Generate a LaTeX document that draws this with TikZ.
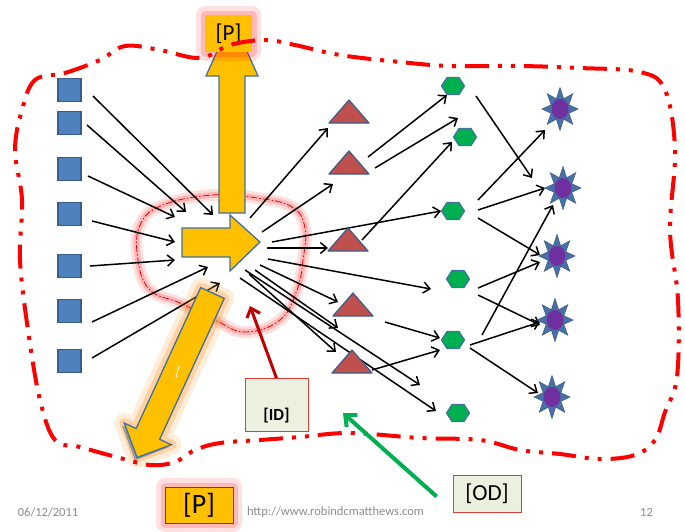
\documentclass[tikz,border=0pt]{standalone}
\usepackage{fontspec}
\setmainfont{Carlito}
\usetikzlibrary{arrows.meta,calc}
\definecolor{orng}{HTML}{FFC000}
\definecolor{arrbd}{HTML}{41719C}
\definecolor{sqfill}{HTML}{4F81BD}
\definecolor{sqbd}{HTML}{385D8A}
\definecolor{trifill}{HTML}{C0504D}
\definecolor{hexfill}{HTML}{00B050}
\definecolor{starfill}{HTML}{4A70A8}
\definecolor{purp}{HTML}{7030A0}
\definecolor{idfill}{HTML}{EBF1DE}
\definecolor{boxred}{HTML}{E03C3C}
\definecolor{darkred}{HTML}{C00000}
\definecolor{grn}{HTML}{00B050}
\definecolor{footgray}{HTML}{8C8C8C}
\definecolor{bred}{HTML}{FF0000}
\newcommand\hexat[3]{\coordinate (#1) at (#2,#3);
  \draw[hexst] ($(#1)+(-11.5,0)$) -- ++(5.5,-8.5) -- ++(12,0) -- ++(5.5,8.5) -- ++(-5.5,8.5) -- ++(-12,0) -- cycle;}
\newcommand\triat[3]{\coordinate (#1) at (#2,#3);
  \draw[trist] ($(#1)+(0,-12)$) -- ++(20,23) -- ++(-40,0) -- cycle;}
\newcommand\starat[3]{\coordinate (#1) at (#2,#3);
  \begin{scope}[shift={(#2,#3)}]
  \draw[starst] plot[samples at={0,...,15},variable=\k] ({(13.75+4.25*cos(180*\k))*cos(90+22.5*\k)},{(16.25+5.25*cos(180*\k))*sin(90+22.5*\k)}) -- cycle;
  \fill[purp] (0,0) ellipse (8.5 and 10);
  \end{scope}}
\begin{document}
\begin{tikzpicture}[x=1pt,y=-1pt,
 sqbox/.style={draw=sqbd,fill=sqfill,line width=1.5pt,minimum size=23pt,inner sep=0pt},
 trist/.style={draw=sqbd,fill=trifill,line width=1.2pt,line join=round},
 hexst/.style={draw=arrbd,fill=hexfill,line width=1.2pt},
 starst/.style={draw=sqbd,fill=starfill,line width=0.6pt},
 arr/.style={-{Straight Barb[length=6.5pt,width=11pt,line width=1.5pt]},line width=1.5pt},
 bigarr/.style={draw=arrbd,fill=orng,line width=1.3pt,line join=miter},
 boundary/.style={bred,line width=4pt,dash pattern=on 24pt off 9pt on 4pt off 9pt on 4pt off 9pt},
 foot/.style={text=footgray,font=\fontsize{12.5}{14}\selectfont},
 pbox/.style={fill=orng,inner sep=0pt}]
\useasboundingbox (0,0) rectangle (685,531);

% hub loop glow
\draw[red,opacity=0.12,line width=12pt,line join=round] plot[smooth cycle,tension=0.7] coordinates {(163,205) (213,195) (257,198) (292,207) (305,228) (303,260) (297,290) (280,320) (245,332) (215,320) (180,303) (150,290) (138,260) (140,225)};
\draw[red,opacity=0.18,line width=6pt,line join=round] plot[smooth cycle,tension=0.7] coordinates {(163,205) (213,195) (257,198) (292,207) (305,228) (303,260) (297,290) (280,320) (245,332) (215,320) (180,303) (150,290) (138,260) (140,225)};
\draw[red!90!black,line width=0.8pt,dash pattern=on 7pt off 2pt on 1.5pt off 2pt] plot[smooth cycle,tension=0.7] coordinates {(163,205) (213,195) (257,198) (292,207) (305,228) (303,260) (297,290) (280,320) (245,332) (215,320) (180,303) (150,290) (138,260) (140,225)};

% black arrows
\foreach \sx/\sy/\ex/\ey in {
  93/96/213/215, 87/125/186/212, 88/176/175/217, 92/221/175/242, 90/266/175/260, 92/322/208/267, 92/358/220/283,
  250/218/328/128, 262/232/333/184, 272/242/441/211, 267/248/328/248, 268/259/431/289, 260/265/338/302,
  255/270/338/328, 249/274/336/352, 245/270/420/385, 240/278/436/411,
  368/157/447/95, 375/168/458/118, 362/240/452/142, 385/322/440/338, 372/370/440/350,
  476/96/532/178, 478/200/545/130, 478/210/545/188, 478/218/540/255, 478/288/540/262, 478/295/540/325,
  482/335/553/205, 470/345/540/322, 470/348/538/393}
  \draw[arr] (\sx,\sy) -- (\ex,\ey);

% squares
\foreach \i/\y in {1/90,2/123,3/169,4/214,5/266,6/311,7/361}
  \node[sqbox] (s\i) at (69.5,\y) {};
% triangles
\triat{t1}{349}{112}
\triat{t2}{349}{163}
\triat{t3}{348}{240}
\triat{t4}{353}{305}
\triat{t5}{352}{362}
% hexagons
\hexat{h1}{453}{86}
\hexat{h2}{465}{137}
\hexat{h3}{453}{211}
\hexat{h4}{458}{279}
\hexat{h5}{453}{340}
\hexat{h6}{458}{413}
% stars
\starat{r1}{560}{109}
\starat{r2}{563}{188}
\starat{r3}{557}{256}
\starat{r4}{555}{320}
\starat{r5}{552}{397}

% up arrow and hub arrow
\draw[bigarr] (219,213) -- (219,76) -- (206,76) -- (232,18) -- (258,76) -- (245,76) -- (245,213) -- cycle;
\draw[bigarr] (182,228) -- (230,228) -- (230,215) -- (260,242) -- (230,271) -- (230,257) -- (182,257) -- cycle;

% diagonal arrow with glow
\draw[orange,opacity=0.15,line width=20pt,line join=round] (200.7,287.6) -- (224.3,298.4) -- (159.7,439.3) -- (171.5,444.7) -- (137.1,457.5) -- (124.3,423.1) -- (136.1,428.5) -- cycle;
\draw[orange,opacity=0.25,line width=10pt,line join=round] (200.7,287.6) -- (224.3,298.4) -- (159.7,439.3) -- (171.5,444.7) -- (137.1,457.5) -- (124.3,423.1) -- (136.1,428.5) -- cycle;
\fill[gray!80] (122,425.5) -- (133.5,431) -- (158,442) -- (169,447) -- (135,460.5) -- cycle;
\draw[bigarr] (200.7,287.6) -- (224.3,298.4) -- (159.7,439.3) -- (171.5,444.7) -- (137.1,457.5) -- (124.3,423.1) -- (136.1,428.5) -- cycle;
\node[text=white,rotate=-15,font=\fontsize{13}{13}\selectfont] (bk) at (178,372) {[};

% P boxes with glow
\draw[red,opacity=0.12,line width=18pt,line join=round] (205,15) rectangle (252,52);
\draw[red,opacity=0.18,line width=9pt,line join=round] (205,15) rectangle (252,52);
\node[pbox,minimum width=47pt,minimum height=37pt,font=\fontsize{23}{23}\selectfont] (ptop) at (228.5,33.5) {[P]};
\draw[red,opacity=0.12,line width=18pt,line join=round] (165,487) rectangle (233,523);
\draw[red,opacity=0.18,line width=9pt,line join=round] (165,487) rectangle (233,523);
\node[pbox,draw=grn!70!black,line width=0.8pt,minimum width=68pt,minimum height=36pt,font=\fontsize{28}{28}\selectfont] (pbot) at (199,505) {[P]};

% boundary
\draw[boundary] plot[smooth cycle,tension=0.6] coordinates {(35,80) (65,73) (100,60) (125,46) (160,50) (200,58) (230,45) (265,40) (295,45) (340,55) (400,62) (450,66) (520,66) (580,68) (640,72) (665,90) (675,150) (670,230) (678,300) (677,377) (665,412) (655,440) (635,455) (600,459) (560,454) (520,450) (480,440) (420,438) (350,433) (300,437) (260,440) (220,443) (195,450) (175,462) (150,465) (120,458) (80,447) (55,440) (40,400) (28,330) (20,260) (22,200) (15,150) (22,110)};

% ID and OD
\node[draw=boxred,fill=idfill,line width=0.8pt,anchor=south,minimum width=63pt,text height=36pt,text depth=5pt,inner ysep=6pt,font=\bfseries\fontsize{17}{17}\selectfont] (id) at (276.5,432) {[ID]};
\draw[darkred,line width=3pt,-{Straight Barb[length=8pt,width=14pt]}] (id.north) -- (250,306);
\node[draw=boxred,fill=idfill,line width=0.8pt,minimum width=68pt,minimum height=37pt,font=\fontsize{23}{23}\selectfont] (od) at (487,493.5) {[OD]};
\draw[grn,line width=4pt,-{Straight Barb[length=9pt,width=16pt]}] (od.west) ++(-16,3) -- (343,413);

% footer
\node[foot] (date) at (48,512) {06/12/2011};
\node[foot] (url) at (335.5,512) {http://www.robindcmatthews.com};
\node[foot] (pg) at (646.5,512) {12};
\end{tikzpicture}
\end{document}
